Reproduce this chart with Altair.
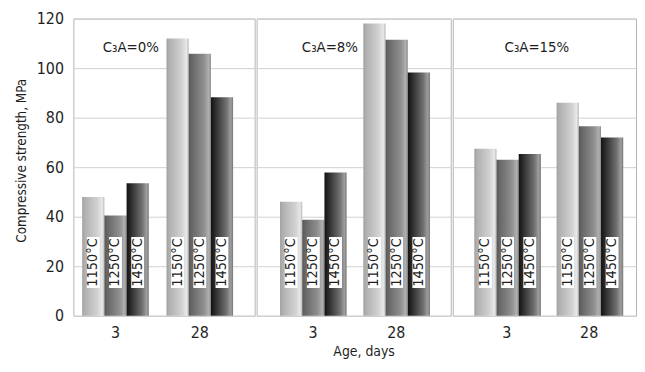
import altair as alt
import pandas as pd

# ---- data ----
panels = ["C₃A=0%", "C₃A=8%", "C₃A=15%"]
ages = ["3", "28"]
temps = ["1150°C", "1250°C", "1450°C"]
c3a0_day3 = [48, 40.5, 53.5]
c3a0_day28 = [112, 105.8, 88.2]
c3a8_day3 = [46, 38.8, 57.8]
c3a8_day28 = [118, 111.5, 98.2]
c3a15_day3 = [67.4, 63, 65.3]
c3a15_day28 = [86, 76.5, 72]
panel_values = [
    (c3a0_day3, c3a0_day28),
    (c3a8_day3, c3a8_day28),
    (c3a15_day3, c3a15_day28),
]
y_ticks = [0, 20, 40, 60, 80, 100, 120]

FONT = "DejaVu Sans Condensed, Liberation Sans Narrow, sans-serif"
TXT = "#1e1e1e"

# per-panel layout (widths / band-scale params / label pixel x)
panel_widths = [183, 196, 185]
panel_po = [0.18, 0.27, 0.218]
panel_align = [0.29, 0.52, 0.60]
label_x = [58, 74, 85]
PLOT_H = 300


def grad(stops):
    return alt.Gradient(
        gradient="linear", x1=0, x2=1, y1=0, y2=0,
        stops=[alt.GradientStop(color=c, offset=o) for o, c in stops],
    )


fills = {
    "1150°C": grad([(0, "#a0a0a0"), (0.12, "#b0b0b0"), (0.7, "#d2d2d2"), (0.9, "#e8e8e8"), (1, "#b8b8b8")]),
    "1250°C": grad([(0, "#565656"), (0.12, "#666666"), (0.7, "#909090"), (0.9, "#b0b0b0"), (1, "#8a8a8a")]),
    "1450°C": grad([(0, "#121212"), (0.12, "#222222"), (0.7, "#707070"), (0.9, "#9e9e9e"), (1, "#767676")]),
}


def make_panel(i):
    rows = []
    for a, vals in zip(ages, panel_values[i]):
        for t, v in zip(temps, vals):
            rows.append({"age": a, "temp": t, "value": v})
    df = pd.DataFrame(rows)

    x_axis = alt.Axis(
        labelFont=FONT, labelFontSize=16, labelColor=TXT, ticks=False, domain=False,
        labelPadding=9, labelAngle=0, grid=False,
        title="Age, days" if i == 1 else None,
        titleFont=FONT, titleFontSize=14, titleFontWeight="normal", titleColor=TXT,
        titlePadding=4, **({"titleX": 108} if i == 1 else {}),
    )
    x = alt.X("age:N", sort=ages, axis=x_axis,
              scale=alt.Scale(paddingInner=0.21, paddingOuter=panel_po[i], align=panel_align[i]))
    if i == 0:
        y_axis = alt.Axis(
            values=y_ticks, labelFont=FONT, labelFontSize=16, labelColor=TXT,
            ticks=False, domain=False, labelPadding=10, gridColor="#d0d0d0",
            title="Compressive strength, MPa", titleFont=FONT, titleFontSize=13.5,
            titleFontWeight="normal", titleColor=TXT, titlePadding=8, titleY=143,
        )
    else:
        y_axis = alt.Axis(values=y_ticks, labels=False, ticks=False, domain=False,
                          title=None, gridColor="#d0d0d0")
    y = alt.Y("value:Q", scale=alt.Scale(domain=[0, 120]), axis=y_axis)
    xo = alt.XOffset("temp:N", sort=temps, scale=alt.Scale(paddingInner=0, paddingOuter=0))

    base = alt.Chart(df)
    layers = []
    for t in temps:
        layers.append(
            base.transform_filter(alt.datum.temp == t)
            .mark_bar(color=fills[t])
            .encode(x=x, xOffset=xo, y=y)
        )
    box = base.mark_bar(color="white", width=13).encode(
        x=x, xOffset=xo, y=alt.datum(31.8), y2=alt.datum(11.2)
    )
    txt = base.mark_text(angle=270, font=FONT, fontSize=14.5, color=TXT,
                         align="center", baseline="middle").encode(
        x=x, xOffset=xo, y=alt.datum(21.5), text="temp:N"
    )
    title = alt.Chart(pd.DataFrame({"label": [panels[i]]})).mark_text(
        font=FONT, fontSize=15, color=TXT, align="center", baseline="middle"
    ).encode(x=alt.value(label_x[i]), y=alt.value(29), text="label:N")
    return alt.layer(*layers, box, txt, title).properties(
        width=panel_widths[i], height=PLOT_H
    )


chart = alt.hconcat(*[make_panel(i) for i in range(3)], spacing=0).resolve_scale(
    x="independent"
).configure_view(stroke="#b4b4b4", strokeWidth=1).configure_axis(
    gridWidth=1
).properties(
    padding={"left": 6, "top": 0, "right": 0, "bottom": 0}, background="white"
)

chart.save("out.html", embed_options={"renderer": "svg", "actions": False})
